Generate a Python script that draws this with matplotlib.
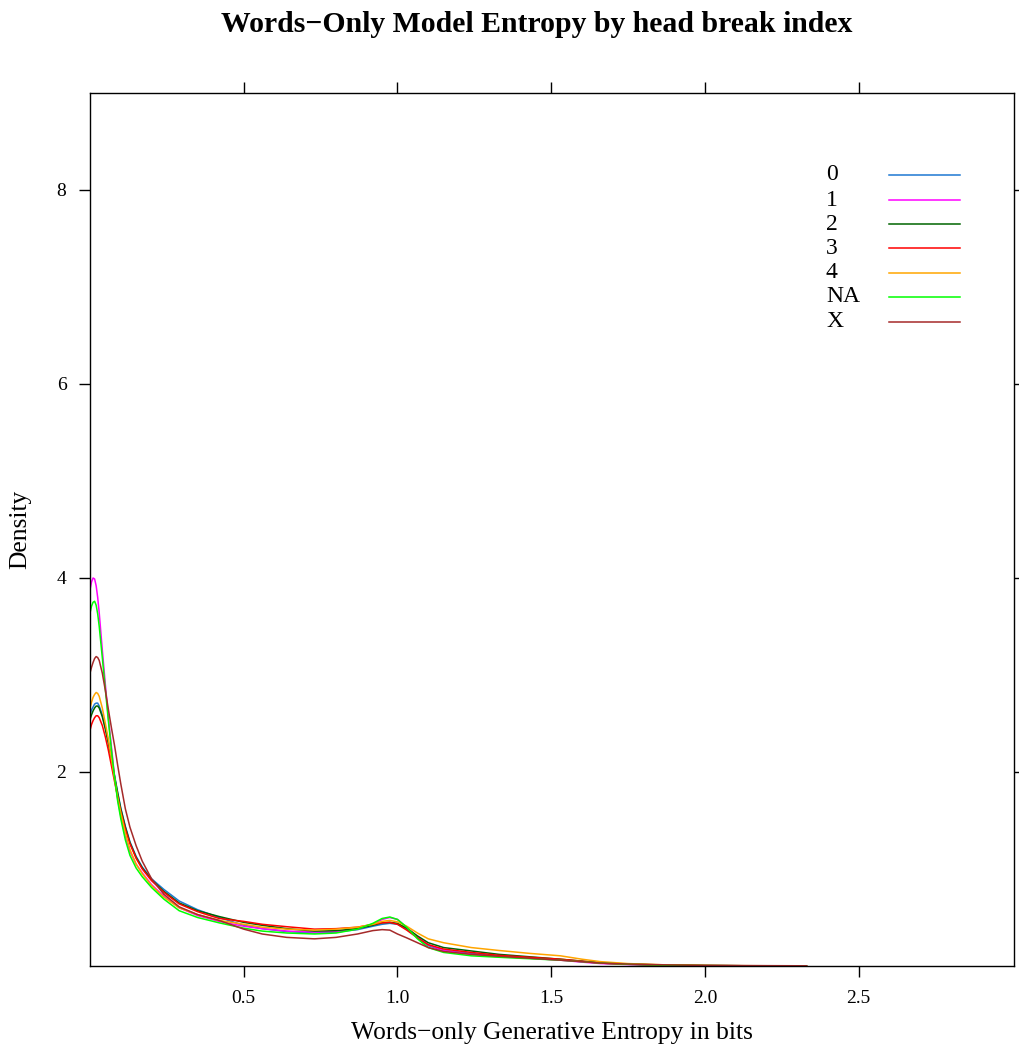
import matplotlib
matplotlib.use("Agg")
import matplotlib.pyplot as plt

plt.rcParams['font.family'] = ['Liberation Serif', 'DejaVu Serif']

title = "Words\u2212Only Model Entropy by head break index"
xlabel = "Words\u2212only Generative Entropy in bits"
ylabel = "Density"

groups = ["0", "1", "2", "3", "4", "NA", "X"]
colors = ["#1E78D2", "#FF00FF", "#006400", "#FF0000", "#FFA500", "#00FF00", "#A52A2A"]

x_grid = [0.000, 0.005, 0.010, 0.015, 0.020, 0.025, 0.030, 0.040, 0.050, 0.060,
          0.070, 0.080, 0.090, 0.100, 0.115, 0.130, 0.150, 0.170, 0.200, 0.240,
          0.290, 0.350, 0.420, 0.500, 0.560, 0.640, 0.730, 0.800, 0.870, 0.920,
          0.950, 0.975, 1.000, 1.030, 1.065, 1.100, 1.150, 1.240, 1.330, 1.430,
          1.530, 1.600, 1.660, 1.750, 1.870, 2.000, 2.150, 2.330]

dens_0 = [2.59, 2.64, 2.67, 2.70, 2.71, 2.71, 2.68, 2.59, 2.46, 2.31,
          2.14, 1.96, 1.79, 1.63, 1.44, 1.28, 1.13, 1.02, 0.90, 0.79,
          0.67, 0.58, 0.50, 0.42, 0.385, 0.355, 0.34, 0.35, 0.375, 0.41,
          0.43, 0.44, 0.43, 0.38, 0.29, 0.21, 0.16, 0.13, 0.10, 0.085,
          0.065, 0.045, 0.03, 0.018, 0.009, 0.004, 0.002, 0.0]
dens_1 = [3.88, 3.96, 4.00, 3.99, 3.92, 3.80, 3.64, 3.26, 2.90, 2.55,
          2.25, 1.95, 1.72, 1.55, 1.33, 1.18, 1.05, 0.96, 0.84, 0.72,
          0.60, 0.52, 0.46, 0.41, 0.385, 0.36, 0.35, 0.355, 0.38, 0.43,
          0.48, 0.50, 0.48, 0.40, 0.30, 0.22, 0.16, 0.12, 0.095, 0.08,
          0.06, 0.04, 0.025, 0.015, 0.008, 0.004, 0.002, 0.0]
dens_2 = [2.54, 2.59, 2.63, 2.66, 2.68, 2.68, 2.66, 2.57, 2.44, 2.29,
          2.12, 1.95, 1.78, 1.62, 1.43, 1.27, 1.12, 1.01, 0.89, 0.77,
          0.65, 0.57, 0.51, 0.45, 0.42, 0.385, 0.36, 0.365, 0.385, 0.42,
          0.445, 0.45, 0.44, 0.39, 0.31, 0.24, 0.19, 0.155, 0.12, 0.095,
          0.07, 0.05, 0.035, 0.02, 0.01, 0.005, 0.002, 0.0]
dens_3 = [2.43, 2.49, 2.53, 2.56, 2.58, 2.58, 2.56, 2.48, 2.36, 2.22,
          2.06, 1.90, 1.74, 1.59, 1.41, 1.26, 1.11, 1.00, 0.88, 0.76,
          0.64, 0.56, 0.49, 0.46, 0.43, 0.405, 0.38, 0.385, 0.40, 0.43,
          0.445, 0.45, 0.43, 0.37, 0.29, 0.22, 0.175, 0.14, 0.11, 0.09,
          0.07, 0.05, 0.03, 0.018, 0.009, 0.004, 0.002, 0.0]
dens_4 = [2.66, 2.72, 2.77, 2.80, 2.82, 2.81, 2.78, 2.66, 2.50, 2.33,
          2.13, 1.93, 1.74, 1.58, 1.37, 1.20, 1.05, 0.95, 0.83, 0.71,
          0.60, 0.53, 0.47, 0.43, 0.40, 0.38, 0.37, 0.38, 0.40, 0.43,
          0.46, 0.47, 0.455, 0.41, 0.34, 0.28, 0.24, 0.19, 0.16, 0.13,
          0.105, 0.07, 0.045, 0.025, 0.012, 0.006, 0.003, 0.001]
dens_NA = [3.64, 3.71, 3.75, 3.76, 3.72, 3.63, 3.50, 3.18, 2.85, 2.52,
           2.22, 1.94, 1.70, 1.52, 1.30, 1.14, 1.01, 0.92, 0.81, 0.69,
           0.57, 0.50, 0.445, 0.39, 0.36, 0.34, 0.33, 0.34, 0.38, 0.44,
           0.49, 0.505, 0.48, 0.40, 0.28, 0.19, 0.14, 0.105, 0.09, 0.075,
           0.06, 0.045, 0.03, 0.018, 0.008, 0.004, 0.002, 0.0]
dens_X = [3.02, 3.08, 3.13, 3.17, 3.19, 3.18, 3.15, 3.02, 2.84, 2.64,
          2.45, 2.27, 2.07, 1.88, 1.62, 1.43, 1.24, 1.08, 0.90, 0.74,
          0.61, 0.53, 0.47, 0.38, 0.33, 0.295, 0.28, 0.295, 0.33, 0.365,
          0.375, 0.37, 0.33, 0.29, 0.24, 0.19, 0.15, 0.12, 0.10, 0.08,
          0.06, 0.045, 0.03, 0.02, 0.012, 0.006, 0.004, 0.002]

series = [dens_0, dens_1, dens_2, dens_3, dens_4, dens_NA, dens_X]

x_ticks = [0.5, 1.0, 1.5, 2.0, 2.5]
x_ticklabels = ["0.5", "1.0", "1.5", "2.0", "2.5"]
y_ticks = [2, 4, 6, 8]
y_ticklabels = ["2", "4", "6", "8"]

W, H = 1019, 1054
fig = plt.figure(figsize=(W / 100, H / 100), dpi=100)
L, R, T, B = 90, 1014, 93, 966
ax = fig.add_axes([L / W, 1 - B / H, (R - L) / W, (B - T) / H])

for ys, c in zip(series, colors):
    ax.plot(x_grid, ys, color=c, lw=1.1, solid_joinstyle='round', clip_on=True)

ax.set_xlim(0.0, 3.005)
ax.set_ylim(0.0, 9.0)
ax.set_xticks(x_ticks)
ax.set_xticklabels(x_ticklabels)
ax.set_yticks(y_ticks)
ax.set_yticklabels(y_ticklabels)
ax.tick_params(axis='both', which='both', direction='out', length=8.0, width=1.0,
               labelsize=14, color='black', top=True, right=True,
               labeltop=False, labelright=False, pad=9)
for s in ax.spines.values():
    s.set_linewidth(1.0)
    s.set_color('black')

fig.text(536.5 / W, 1 - 24 / H, title, ha='center', va='center', fontsize=21.4, fontweight='bold')
fig.text((L + R) / 2 / W, 1 - 1033 / H, xlabel, ha='center', va='center', fontsize=18.4)
fig.text(20 / W, 1 - 529 / H, ylabel, ha='center', va='center', rotation=90, fontsize=18.4)

# legend (key)
leg_rows = [175, 200, 224, 248, 273, 297, 322]
for g, c, yy in zip(groups, colors, leg_rows):
    fy = 1 - yy / H
    fig.text(826 / W, fy, g, ha='left', va='center', fontsize=17)
    fig.add_artist(plt.Line2D([889 / W, 960 / W], [fy, fy], color=c, lw=1.1,
                              transform=fig.transFigure))

fig.savefig("out.png", dpi=100)
